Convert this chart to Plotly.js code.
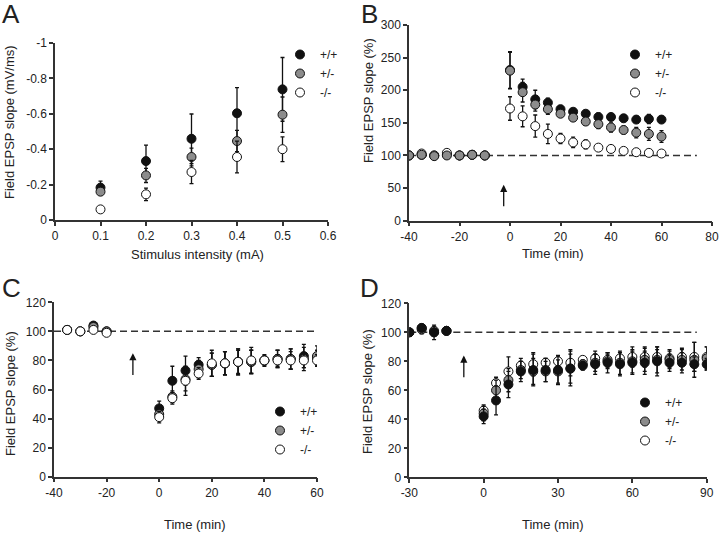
<!DOCTYPE html>
<html>
<head>
<meta charset="utf-8">
<script src="https://cdn.plot.ly/plotly-3.0.1.min.js"></script>
<style>html,body{margin:0;padding:0;background:#fff;}#chart{width:720px;height:533px;}</style>
</head>
<body>
<div id="chart"></div>
<script>
// ---------- data ----------
const groupNames = ['+/+', '+/-', '-/-'];

// Panel A: input-output
const stimA = [0.1, 0.2, 0.3, 0.4, 0.5];
const slopeA_wt  = [-0.183, -0.333, -0.459, -0.603, -0.738];
const errA_wt    = [0.037, 0.09, 0.14, 0.145, 0.18];
const slopeA_het = [-0.16, -0.252, -0.356, -0.446, -0.595];
const errA_het   = [0.02, 0.04, 0.05, 0.06, 0.1];
const slopeA_ko  = [-0.06, -0.145, -0.271, -0.356, -0.40];
const errA_ko    = [0.005, 0.035, 0.066, 0.09, 0.07];

// Panel B: LTP
const timeB = [-40, -35, -30, -25, -20, -15, -10, 0, 5, 10, 15, 20, 25, 30, 35, 40, 45, 50, 55, 60];
const ltpB_wt  = [100, 101, 100, 102, 100, 101, 100, 231, 205, 186, 181, 171, 167, 164, 159, 159, 157, 155, 156, 155];
const errB_wt  = [2, 2, 2, 2, 2, 2, 2, 28, 12, 14, 7, 5, 4, 4, 6, 4, 5, 4, 7, 3];
const ltpB_het = [100, 101, 99, 100, 100, 101, 100, 230, 197, 178, 171, 164, 158, 152, 148, 143, 139, 135, 133, 129];
const errB_het = [2, 2, 2, 2, 2, 2, 2, 28, 15, 10, 8, 4, 5, 5, 7, 7, 6, 8, 10, 9];
const ltpB_ko  = [100, 103, 100, 104, 100, 101, 100, 172, 160, 145, 133, 126, 120, 117, 112, 110, 107, 105, 104, 103];
const errB_ko  = [2, 2, 2, 2, 2, 2, 2, 18, 16, 17, 15, 8, 8, 7, 4, 3, 3, 3, 3, 2];

// Panel C: LTD
const timeC = [-35, -30, -25, -20, 0, 5, 10, 15, 20, 25, 30, 35, 40, 45, 50, 55, 60];
const ltdC_wt  = [101, 100, 104, 100, 47, 66, 73, 77, 77, 78, 79, 79, 80, 81, 81, 83, 82];
const errC_wt  = [1, 1, 1, 1, 5, 10, 10, 5, 8, 8, 9, 8, 3, 6, 7, 8, 5];
const ltdC_het = [101, 100, 103, 100, 43, 55, 67, 74, 77, 78, 79, 79, 80, 81, 81, 81, 83];
const errC_het = [1, 1, 1, 1, 4, 4, 8, 6, 8, 8, 9, 8, 4, 6, 7, 8, 7];
const ltdC_ko  = [101, 100, 101, 99, 41, 54, 66, 71, 78, 78, 79, 80, 80, 80, 80, 80, 80];
const errC_ko  = [1, 1, 1, 1, 4, 4, 10, 4, 9, 8, 8, 9, 3, 4, 6, 5, 4];

// Panel D: LTD (longer)
const timeD = [-30, -25, -20, -15, 0, 5, 10, 15, 20, 25, 30, 35, 40, 45, 50, 55, 60, 65, 70, 75, 80, 85, 90];
const ltdD_wt  = [100, 103, 100, 101, 42, 53, 64, 73, 74, 74, 74, 75, 77, 78, 79, 78, 79, 79, 80, 79, 79, 78, 78];
const errD_wt  = [2, 2, 5, 2, 5, 10, 9, 7, 11, 8, 10, 12, 3, 7, 7, 8, 8, 8, 10, 6, 7, 5, 4];
const ltdD_het = [100, 102, 101, 101, 44, 60, 67, 74, 73, 73, 73, 75, 78, 79, 80, 79, 80, 81, 81, 81, 81, 81, 82];
const errD_het = [2, 3, 3, 2, 5, 7, 8, 6, 9, 7, 8, 10, 3, 6, 5, 8, 8, 8, 9, 6, 7, 12, 8];
const ltdD_ko  = [100, 103, 100, 101, 46, 65, 73, 77, 78, 79, 80, 79, 81, 82, 81, 82, 83, 83, 83, 82, 83, 83, 83];
const errD_ko  = [2, 2, 2, 2, 4, 4, 10, 5, 8, 3, 3, 9, 2, 5, 5, 4, 7, 7, 5, 6, 6, 10, 7];

// tick labels
const tickA_x = [0, 0.1, 0.2, 0.3, 0.4, 0.5, 0.6];
const tickA_xt = ['0', '0.1', '0.2', '0.3', '0.4', '0.5', '0.6'];
const tickA_y = [0, -0.2, -0.4, -0.6, -0.8, -1];
const tickA_yt = ['0', '-0.2', '-0.4', '-0.6', '-0.8', '-1'];
const tickB_x = [-40, -20, 0, 20, 40, 60, 80];
const tickB_xt = ['-40', '-20', '0', '20', '40', '60', '80'];
const tickB_y = [0, 50, 100, 150, 200, 250, 300];
const tickC_x = [-40, -20, 0, 20, 40, 60];
const tickC_xt = ['-40', '-20', '0', '20', '40', '60'];
const tickCD_y = [0, 20, 40, 60, 80, 100, 120];
const tickD_x = [-30, 0, 30, 60, 90];
const tickD_xt = ['-30', '0', '30', '60', '90'];

// ---------- styling ----------
const FONT = 'Liberation Sans, Arial, sans-serif';
const TXT = '#222';
const fills = ['#111111', '#8c8c8c', '#ffffff'];

function trace(x, y, err, g, xa, ya, leg, rank) {
  return {
    type: 'scatter', mode: 'markers', x: x, y: y,
    name: groupNames[g], legend: leg, legendrank: rank,
    xaxis: xa, yaxis: ya,
    marker: {size: 9, color: fills[g], line: {color: '#111', width: 1}},
    error_y: {type: 'data', array: err, visible: true, color: '#111', thickness: 1.3, width: 2},
    hoverinfo: 'x+y'
  };
}

const data = [
  // A
  trace(stimA, slopeA_wt, errA_wt, 0, 'x', 'y', 'legend', 1),
  trace(stimA, slopeA_het, errA_het, 1, 'x', 'y', 'legend', 2),
  trace(stimA, slopeA_ko, errA_ko, 2, 'x', 'y', 'legend', 3),
  // B
  trace(timeB, ltpB_wt, errB_wt, 0, 'x2', 'y2', 'legend2', 1),
  trace(timeB, ltpB_ko, errB_ko, 2, 'x2', 'y2', 'legend2', 3),
  trace(timeB, ltpB_het, errB_het, 1, 'x2', 'y2', 'legend2', 2),
  // C
  trace(timeC, ltdC_wt, errC_wt, 0, 'x3', 'y3', 'legend3', 1),
  trace(timeC, ltdC_het, errC_het, 1, 'x3', 'y3', 'legend3', 2),
  trace(timeC, ltdC_ko, errC_ko, 2, 'x3', 'y3', 'legend3', 3),
  // D
  trace(timeD, ltdD_ko, errD_ko, 2, 'x4', 'y4', 'legend4', 3),
  trace(timeD, ltdD_het, errD_het, 1, 'x4', 'y4', 'legend4', 2),
  trace(timeD, ltdD_wt, errD_wt, 0, 'x4', 'y4', 'legend4', 1)
];

const W = 720, H = 533;
const px = v => v / W;
const py = v => 1 - v / H;

function axis(anchor, domain, range, tickvals, ticktext) {
  const a = {
    anchor: anchor, domain: domain, range: range, tickmode: 'array', tickvals: tickvals,
    showgrid: false, zeroline: false, showline: true, linecolor: '#333', linewidth: 1.5,
    ticks: 'outside', ticklen: 4, tickwidth: 1.5, tickcolor: '#333',
    tickfont: {family: FONT, size: 12, color: TXT}, fixedrange: true
  };
  if (ticktext) a.ticktext = ticktext;
  return a;
}

function legendAt(xpx, ypx) {
  return {x: px(xpx), y: py(ypx), xanchor: 'left', yanchor: 'top',
    bgcolor: 'rgba(0,0,0,0)', borderwidth: 0, itemwidth: 30, tracegroupgap: 0,
    font: {family: FONT, size: 12, color: TXT}, itemclick: false, itemdoubleclick: false};
}

function txt(text, xpx, ypx, size, angle) {
  return {text: text, xref: 'paper', yref: 'paper', x: px(xpx), y: py(ypx),
    xanchor: 'center', yanchor: 'middle', showarrow: false, textangle: angle || 0,
    font: {family: FONT, size: size, color: TXT}};
}

function arrow(xa, ya, x, yHead, yTail) {
  return {xref: xa, yref: ya, axref: xa, ayref: ya, x: x, y: yHead, ax: x, ay: yTail,
    text: '', showarrow: true, arrowhead: 2, arrowsize: 1.1, arrowwidth: 1.3, arrowcolor: '#111'};
}

function dashed(xa, ya, x0, x1) {
  return {type: 'line', xref: xa, yref: ya, x0: x0, x1: x1, y0: 100, y1: 100,
    line: {color: '#333', width: 1.5, dash: '7px,4px'}, layer: 'below'};
}

const layout = {
  width: W, height: H, margin: {l: 0, r: 0, t: 0, b: 0},
  paper_bgcolor: '#fff', plot_bgcolor: 'rgba(0,0,0,0)',
  font: {family: FONT, color: TXT},
  showlegend: true, hovermode: 'closest',
  xaxis:  axis('y',  [px(55), px(328)], [0, 0.6], tickA_x, tickA_xt),
  yaxis:  axis('x',  [py(220), py(43)], [0, -1], tickA_y, tickA_yt),
  xaxis2: axis('y2', [px(409), px(712)], [-40, 80], tickB_x, tickB_xt),
  yaxis2: axis('x2', [py(220.7), py(25)], [0, 300], tickB_y),
  xaxis3: axis('y3', [px(54), px(317)], [-40, 60], tickC_x, tickC_xt),
  yaxis3: axis('x3', [py(476.7), py(302.3)], [0, 120], tickCD_y),
  xaxis4: axis('y4', [px(409.3), px(706.7)], [-30, 90], tickD_x, tickD_xt),
  yaxis4: axis('x4', [py(477.3), py(303.3)], [0, 120], tickCD_y),
  legend:  legendAt(280, 40),
  legend2: legendAt(615, 40),
  legend3: legendAt(260, 397),
  legend4: legendAt(625, 388),
  shapes: [
    dashed('x2', 'y2', -40, 74),
    dashed('x3', 'y3', -40, 68),
    dashed('x4', 'y4', -30, 86)
  ],
  annotations: [
    txt('A', 11, 14, 26), txt('B', 370, 14, 26), txt('C', 11, 288, 26), txt('D', 370, 288, 26),
    txt('Field EPSP slope (mV/ms)', 9, 122, 13, -90),
    txt('Stimulus intensity (mA)', 197, 255, 13),
    txt('Field EPSP slope (%)', 368, 101, 13, -90),
    txt('Time (min)', 553, 253, 13),
    txt('Field EPSP slope (%)', 10, 394, 13, -90),
    txt('Time (min)', 195, 524, 13),
    txt('Field EPSP slope (%)', 367, 392, 13, -90),
    txt('Time (min)', 553, 524, 13),
    arrow('x2', 'y2', -2.5, 55, 20),
    arrow('x3', 'y3', -10, 85, 69),
    arrow('x4', 'y4', -8, 84, 68)
  ]
};

Plotly.newPlot('chart', data, layout, {displayModeBar: false, staticPlot: false});
</script>
</body>
</html>
